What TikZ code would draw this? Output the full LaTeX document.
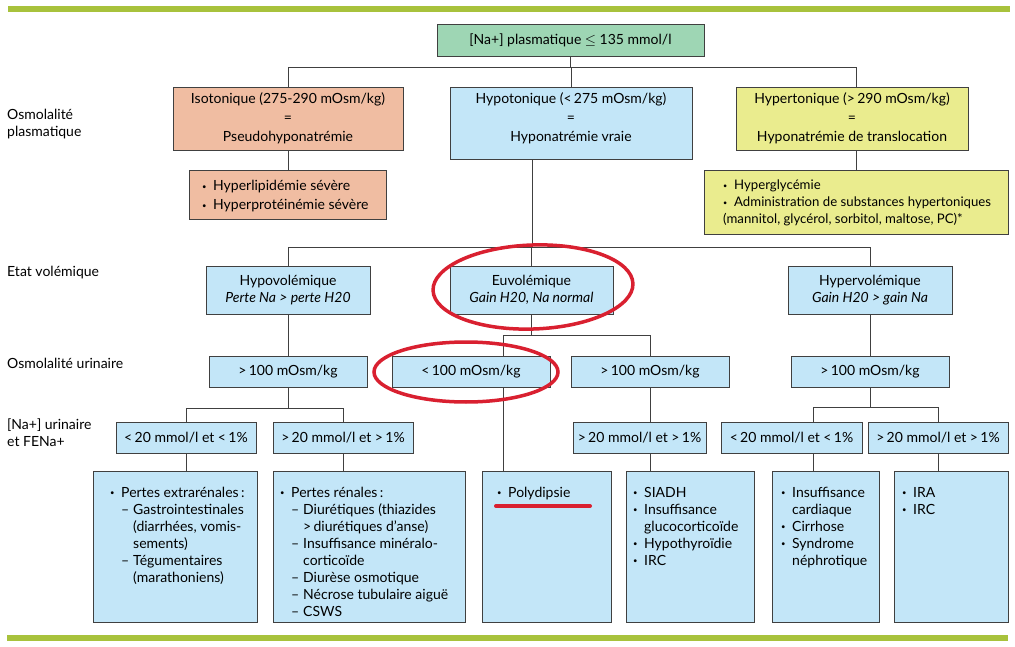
\documentclass[tikz,border=0pt]{standalone}
\usepackage{fontspec}
\setmainfont{Lato}
\definecolor{barG}{HTML}{A8C23C}
\definecolor{topG}{HTML}{9ED6B4}
\definecolor{salm}{HTML}{F0BDA2}
\definecolor{lblue}{HTML}{C3E6F8}
\definecolor{yel}{HTML}{EAEC8E}
\definecolor{redm}{HTML}{D92030}
\definecolor{lnc}{HTML}{404040}
\newcommand\sbul{\raisebox{0.25ex}{\scalebox{0.55}{\textbullet}}}
\newcommand\li[1]{\makebox[11pt][l]{\sbul}#1}
\newcommand\lc[1]{\hspace*{11pt}#1}
\newcommand\ld[1]{\hspace*{11pt}\makebox[12pt][l]{–}#1}
\newcommand\ldc[1]{\hspace*{23pt}#1}
\begin{document}
\begin{tikzpicture}[x=1pt,y=-1pt,
  font=\fontsize{14}{17}\selectfont,
  box/.style={draw=lnc, line width=0.9pt, inner sep=0pt, align=center, fill=lblue},
  conn/.style={draw=lnc, line width=0.9pt},
  lbl/.style={anchor=west, align=left, inner sep=0pt},
  lst/.style={anchor=base west, inner sep=0pt},
  redmark/.style={draw=redm, line width=3.5pt}]
\useasboundingbox (0,0) rectangle (1015,647);
\fill[barG] (8,6) rectangle (1010,12);
\fill[barG] (7,635) rectangle (1008,641);

% left labels
\node[lbl] (l1) at (7,124) {Osmolalité\\plasmatique};
\node[lbl] (l2) at (7,273) {Etat volémique};
\node[lbl] (l3) at (7,363) {Osmolalité urinaire};
\node[lbl] (l4) at (7,433) {[Na+] urinaire\\et FENa+};

% level 0
\node[box, fill=topG, minimum width=267, minimum height=32] (top) at (570.5,40) {[Na+] plasmatique $\leq$ 135 mmol/l};
% level 1
\node[box, fill=salm, minimum width=230, minimum height=63] (iso) at (288,118.5) {Isotonique (275-290 mOsm/kg)\\[2pt]=\\[2pt]Pseudohyponatrémie};
\node[box, minimum width=242, minimum height=72,
  label={[align=center, inner sep=0pt, yshift=4.5pt]center:{Hypotonique (<\,275 mOsm/kg)\\[2pt]=\\[2pt]Hyponatrémie vraie}}] (hyp) at (571,123) {};
\node[box, fill=yel, minimum width=232, minimum height=63] (hyt) at (852,118.5) {Hypertonique (>\,290 mOsm/kg)\\[2pt]=\\[2pt]Hyponatrémie de translocation};
% level 1 lists
\node[box, fill=salm, minimum width=197, minimum height=49] (lip) at (287.5,194.5) {};
\node[lst] (lipt) at (202,191) {\parbox[t]{180pt}{\fontsize{14}{19}\selectfont\li{Hyperlipidémie sévère}\\\li{Hyperprotéinémie sévère}}};
\node[box, fill=yel, minimum width=304, minimum height=64] (gly) at (856,202) {};
\node[lst] (glyt) at (723,190) {\parbox[t]{280pt}{\fontsize{13.2}{17}\selectfont\li{Hyperglycémie}\\\li{Administration de substances hypertoniques}\\(mannitol, glycérol, sorbitol, maltose, PC)*}};

% volemia
\node[box, minimum width=164, minimum height=48] (hvo) at (288,290) {Hypovolémique\\\textit{Perte Na > perte H20}};
\node[box, minimum width=163, minimum height=48] (euv) at (531.5,290) {Euvolémique\\\textit{Gain H20, Na normal}};
\node[box, minimum width=164, minimum height=48] (hve) at (870,290) {Hypervolémique\\\textit{Gain H20 > gain Na}};

% urine osmolality
\node[box, minimum width=158, minimum height=31] (o1) at (288,371.5) {>\,100 mOsm/kg};
\node[box, minimum width=158, minimum height=31] (o2) at (471,371.5) {<\,100 mOsm/kg};
\node[box, minimum width=158, minimum height=31] (o3) at (650,371.5) {>\,100 mOsm/kg};
\node[box, minimum width=158, minimum height=31] (o4) at (870,371.5) {>\,100 mOsm/kg};

% urine sodium
\node[box, minimum width=140, minimum height=31] (n1) at (186,437.5) {<\,20 mmol/l et <\,1\%};
\node[box, minimum width=140, minimum height=31] (n2) at (343,437.5) {>\,20 mmol/l et >\,1\%};
\node[box, minimum width=133, minimum height=31] (n3) at (639.5,437.5) {>\,20 mmol/l et >\,1\%};
\node[box, minimum width=141, minimum height=31] (n4) at (791.5,437.5) {<\,20 mmol/l et <\,1\%};
\node[box, minimum width=140, minimum height=31] (n5) at (938,437.5) {>\,20 mmol/l et >\,1\%};

% bottom boxes
\node[box, minimum width=164, minimum height=151] (b1) at (175,546.5) {};
\node[box, minimum width=192, minimum height=151] (b2) at (369,546.5) {};
\node[box, minimum width=129, minimum height=151] (b3) at (546.5,546.5) {};
\node[box, minimum width=128, minimum height=151] (b4) at (690,546.5) {};
\node[box, minimum width=107, minimum height=151] (b5) at (825.5,546.5) {};
\node[box, minimum width=114, minimum height=151] (b6) at (951,546.5) {};

\node[lst] (b1t) at (110,497) {\parbox[t]{145pt}{\li{Pertes extrarénales\,:}\\\ld{Gastrointestinales}\\\ldc{(diarrhées, vomis-}\\\ldc{sements)}\\\ld{Tégumentaires}\\\ldc{(marathoniens)}}};
\node[lst] (b2t) at (280,497) {\parbox[t]{180pt}{\li{Pertes rénales\,:}\\\ld{Diurétiques (thiazides}\\\ldc{>\,diurétiques d’anse)}\\\ld{Insuffisance minéralo-}\\\ldc{corticoïde}\\\ld{Diurèse osmotique}\\\ld{Nécrose tubulaire aiguë}\\\ld{CSWS}}};
\node[lst] (b3t) at (497,497) {\parbox[t]{110pt}{\li{Polydipsie}}};
\node[lst] (b4t) at (633,497) {\parbox[t]{120pt}{\li{SIADH}\\\li{Insuffisance}\\\lc{glucocorticoïde}\\\li{Hypothyroïdie}\\\li{IRC}}};
\node[lst] (b5t) at (781,497) {\parbox[t]{100pt}{\li{Insuffisance}\\\lc{cardiaque}\\\li{Cirrhose}\\\li{Syndrome}\\\lc{néphrotique}}};
\node[lst] (b6t) at (902,497) {\parbox[t]{100pt}{\li{IRA}\\\li{IRC}}};

% connectors
\coordinate (j0) at (0,67);
\draw[conn] (top.south) -- (top.south |- j0);
\draw[conn] (iso.north) |- (gly.north |- j0) -- (gly.north |- hyt.north);
\draw[conn] (hyp.north) -- (hyp.north |- j0);
\draw[conn] (iso.south) -- (iso.south |- lip.north);
\draw[conn] (hyt.south -| gly.north) -- (gly.north);

\coordinate (j1) at (532,247);
\draw[conn] (hyp.south -| j1) -- (j1);
\draw[conn] (hvo.north) |- (hve.north |- j1) -- (hve.north);
\draw[conn] (euv.north) -- (euv.north |- j1);

\draw[conn] (hvo.south) -- (o1.north);
\coordinate (j2) at (0,408);
\draw[conn] (o1.south) -- (o1.south |- j2);
\draw[conn] (n1.north) |- (n2.north |- j2) -- (n2.north);
\draw[conn] (n1.south) -- (n1.south |- b1.north);
\draw[conn] (n2.south) -- (n2.south |- b2.north);

\coordinate (j3) at (503,335);
\draw[conn] (euv.south) -- (euv.south |- j3);
\draw[conn] (o2.north -| j3) |- (o3.north |- j3) -- (o3.north);
\draw[conn] (o2.south -| j3) -- (b3.north -| j3);
\draw[conn] (o3.south) -- (o3.south |- n3.north);
\draw[conn] (n3.south -| o3.south) -- (b4.north -| o3.south);

\draw[conn] (hve.south) -- (o4.north);
\coordinate (j4) at (813,407);
\draw[conn] (o4.south) -- (o4.south |- j4);
\draw[conn] (n4.north -| j4) |- (n5.north |- j4) -- (n5.north);
\draw[conn] (n4.south -| j4) -- (b5.north -| j4);
\draw[conn] (n5.south) -- (n5.south |- b6.north);

% red annotations
\draw[redmark] (533,287) ellipse [x radius=100, y radius=42, rotate=2];
\draw[redmark] (466,372) ellipse [x radius=92, y radius=30];
\draw[redmark, line width=4pt, line cap=round] (496,506) -- (590,506);
\end{tikzpicture}
\end{document}
